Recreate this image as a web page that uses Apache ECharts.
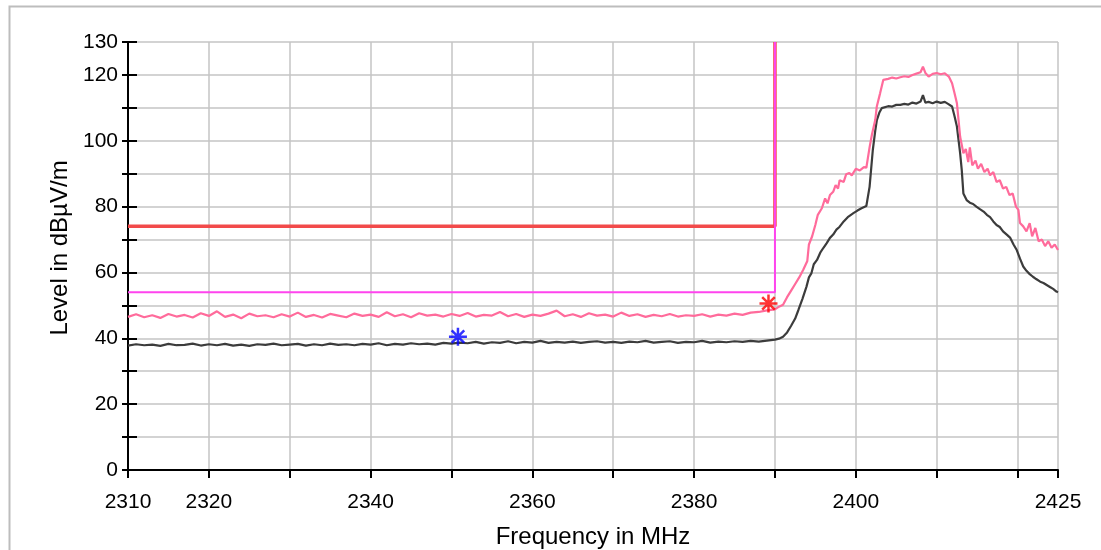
<!DOCTYPE html>
<html>
<head>
<meta charset="utf-8">
<script src="https://cdn.jsdelivr.net/npm/echarts@6/dist/echarts.min.js"></script>
<style>
html,body{margin:0;padding:0;background:#fff;}
#chart{width:1101px;height:550px;}
</style>
</head>
<body>
<div id="chart"></div>
<script>
// ---- data ----
const xLabelsShown = [2310, 2320, 2340, 2360, 2380, 2400, 2425];
const yLabelsShown = [0, 20, 40, 60, 80, 100, 120, 130];

const peakTrace = [
[2310,46.5],[2311,47.3],[2312,46.4],[2313,47.0],[2314,46.2],[2315,47.4],[2316,46.6],[2317,47.1],[2318,46.3],[2319,47.6],
[2320,46.8],[2321,48.2],[2322,46.5],[2323,47.2],[2324,46.1],[2325,47.5],[2326,46.7],[2327,47.0],[2328,46.4],[2329,47.3],
[2330,46.6],[2331,47.8],[2332,46.5],[2333,47.1],[2334,46.3],[2335,47.4],[2336,46.9],[2337,46.4],[2338,47.5],[2339,46.8],
[2340,47.2],[2341,46.5],[2342,47.9],[2343,46.7],[2344,47.3],[2345,46.4],[2346,47.6],[2347,46.9],[2348,47.2],[2349,46.6],
[2350,47.4],[2351,46.8],[2352,47.7],[2353,46.6],[2354,47.1],[2355,46.9],[2356,48.0],[2357,46.7],[2358,47.4],[2359,46.5],
[2360,47.2],[2361,46.8],[2362,47.5],[2363,48.4],[2364,46.7],[2365,47.3],[2366,46.5],[2367,47.6],[2368,46.9],[2369,47.2],
[2370,46.6],[2371,47.8],[2372,46.8],[2373,47.3],[2374,46.5],[2375,47.1],[2376,46.7],[2377,47.4],[2378,46.6],[2379,47.0],
[2380,46.8],[2381,47.3],[2382,46.6],[2383,47.2],[2384,46.9],[2385,47.5],[2386,47.1],[2387,47.8],[2388,48.0],[2389,48.5],
[2390,48.8],[2390.5,49.6],[2391,50.2],[2391.5,52.5],[2392,54.5],[2392.5,56.5],[2393,58.5],[2393.5,60.8],[2394,63.5],[2394.2,68.5],
[2394.6,71],[2395,74.5],[2395.3,77.5],[2395.8,79.5],[2396.2,82.5],[2396.5,81],[2396.8,83.5],[2397.2,84.5],[2397.5,86.5],[2397.8,85.5],
[2398,88],[2398.5,87.5],[2398.8,89.8],[2399.2,90.2],[2399.5,89.5],[2400,91.5],[2400.5,91],[2401,92],[2401.3,91.8],[2401.7,98],
[2402,102],[2402.4,106.3],[2402.6,110.5],[2403,114.4],[2403.4,118.5],[2404,118.8],[2404.5,119.2],[2405,118.9],[2405.5,119.3],[2406,119.6],
[2406.5,119.4],[2407,120.0],[2407.5,120.4],[2408,120.8],[2408.3,122.5],[2408.6,120.6],[2409,119.5],[2409.5,120.3],[2410,120.6],[2410.5,120.2],
[2411,120.5],[2411.5,119.5],[2411.9,117.5],[2412.2,114.5],[2412.5,111.4],[2412.9,101.2],[2413.3,96.2],[2413.6,97.5],[2413.9,93.5],[2414.1,98],
[2414.4,92.5],[2414.8,94],[2415.1,91.5],[2415.5,93],[2415.9,90.5],[2416.3,91.5],[2416.6,89.5],[2417,90.5],[2417.4,87.5],[2417.8,88],
[2418.2,85.5],[2418.6,86],[2419,83.5],[2419.4,84],[2419.8,80],[2420.1,79],[2420.3,75],[2420.7,74],[2421.1,72.5],[2421.5,75],
[2421.8,71],[2422.2,73.5],[2422.6,69.5],[2423,70],[2423.4,68],[2423.8,69.5],[2424.2,67.5],[2424.6,68.5],[2425,66.8]
];

const avgTrace = [
[2310,37.8],[2311,38.2],[2312,37.9],[2313,38.1],[2314,37.7],[2315,38.3],[2316,37.9],[2317,38.0],[2318,38.4],[2319,37.8],
[2320,38.2],[2321,37.9],[2322,38.3],[2323,37.8],[2324,38.1],[2325,37.7],[2326,38.2],[2327,38.0],[2328,38.4],[2329,37.9],
[2330,38.1],[2331,38.3],[2332,37.8],[2333,38.2],[2334,37.9],[2335,38.4],[2336,38.0],[2337,38.2],[2338,37.9],[2339,38.3],
[2340,38.1],[2341,38.5],[2342,37.9],[2343,38.3],[2344,38.1],[2345,38.5],[2346,38.2],[2347,38.4],[2348,38.1],[2349,38.6],
[2350,38.4],[2351,38.7],[2352,38.5],[2353,38.9],[2354,38.4],[2355,38.8],[2356,38.6],[2357,39.1],[2358,38.5],[2359,38.9],
[2360,38.7],[2361,39.2],[2362,38.6],[2363,38.9],[2364,38.7],[2365,39.0],[2366,38.6],[2367,38.9],[2368,39.1],[2369,38.7],
[2370,38.9],[2371,38.6],[2372,39.0],[2373,38.8],[2374,39.2],[2375,38.7],[2376,38.9],[2377,39.1],[2378,38.6],[2379,38.9],
[2380,38.8],[2381,39.2],[2382,38.7],[2383,39.0],[2384,38.8],[2385,39.1],[2386,38.9],[2387,39.2],[2388,39.0],[2389,39.3],
[2390,39.6],[2390.5,39.9],[2391,40.5],[2391.5,41.8],[2392,43.8],[2392.5,46],[2392.9,48.6],[2393.4,52],[2393.9,55.7],[2394.2,58.5],
[2394.5,59.7],[2394.8,62.5],[2395.2,63.8],[2395.6,66],[2396,67.5],[2396.4,68.9],[2396.8,70.5],[2397.2,71.5],[2397.6,73],[2398,73.9],
[2398.5,75.5],[2399,76.8],[2399.4,77.5],[2399.7,78.0],[2400.2,78.8],[2400.7,79.5],[2401.3,80.2],[2401.7,86],[2402.1,97.2],[2402.4,103],
[2402.6,106.3],[2402.9,108.5],[2403.2,109.9],[2404,110.5],[2404.5,110.4],[2405,110.9],[2405.5,110.9],[2406,111.2],[2406.5,111.0],[2407,111.6],
[2407.5,111.3],[2408,111.9],[2408.3,113.9],[2408.6,111.6],[2409,111.8],[2409.5,111.4],[2410,111.9],[2410.5,111.5],[2411,111.8],[2411.4,111.2],
[2411.9,110.4],[2412.2,107.5],[2412.5,104.3],[2412.9,96.2],[2413.1,91.1],[2413.3,84.0],[2413.7,82.0],[2414.1,81.2],[2414.5,80.8],[2414.9,80.0],
[2415.3,79.3],[2415.8,78.5],[2416.2,77.5],[2416.6,76.8],[2417,75.5],[2417.4,74.4],[2417.8,73.8],[2418.2,72.5],[2418.7,71.4],[2419.1,70.5],
[2419.5,68.5],[2419.9,66.8],[2420.3,64.2],[2420.7,61.8],[2421.1,60.5],[2421.5,59.5],[2421.9,58.7],[2422.3,58.0],[2422.8,57.2],[2423.2,56.8],
[2423.6,56.2],[2424,55.6],[2424.4,55.0],[2424.8,54.2],[2425,54.0]
];

const peakLimit = [[2310,74],[2390,74],[2390,130]];
const avgLimit = [[2310,54],[2390,54],[2390,130]];
const peakMarker = [[2389.2,50.6]];
const avgMarker = [[2350.8,40.5]];

// ---- chart ----
const FONT = '"Liberation Sans", Arial, sans-serif';
const asterisk = 'path://M0,-10L0,10M-10,0L10,0M-7,-7L7,7M-7,7L7,-7';
const chart = echarts.init(document.getElementById('chart'), null, {renderer:'canvas'});
chart.setOption({
  animation:false,
  backgroundColor:'#ffffff',
  graphic:[{type:'rect', left:7, top:4, shape:{width:1110, height:570}, style:{fill:'none', stroke:'#bdbdbd', lineWidth:2}, silent:true, z:-10}],
  grid:{left:128, right:43, top:42, bottom:80, containLabel:false, outerBoundsMode:'none'},
  xAxis:{
    type:'value', min:2310, max:2425, interval:10,
    name:'Frequency in MHz', nameLocation:'middle', nameGap:55,
    nameTextStyle:{fontFamily:FONT, fontSize:24, color:'#000'},
    axisLine:{show:true, onZero:false, lineStyle:{color:'#000', width:2}},
    axisTick:{show:true, inside:false, length:8, lineStyle:{color:'#000', width:2}},
    axisLabel:{margin:22, fontFamily:FONT, fontSize:21, color:'#000',
      formatter:v => xLabelsShown.indexOf(Math.round(v))>=0 ? String(Math.round(v)) : ''},
    splitLine:{show:true, lineStyle:{color:'#c4c4c4', width:1.5}}
  },
  yAxis:[{
    type:'value', min:0, max:130, interval:10,
    name:'Level in dBµV/m', nameLocation:'middle', nameGap:56, nameRotate:90,
    nameTextStyle:{fontFamily:FONT, fontSize:24, color:'#000', padding:[0,0,0,16]},
    axisLine:{show:true, onZero:false, lineStyle:{color:'#000', width:2}},
    axisTick:{show:true, inside:false, length:6, lineStyle:{color:'#000', width:2}},
    axisLabel:{margin:10, fontFamily:FONT, fontSize:21, color:'#000',
      formatter:v => yLabelsShown.indexOf(Math.round(v))>=0 ? String(Math.round(v)) : ''},
    splitLine:{show:true, lineStyle:{color:'#c4c4c4', width:1.5}}
  },{
    type:'value', min:0, max:130, interval:10, position:'left', offset:0,
    axisLine:{show:false}, axisLabel:{show:false}, splitLine:{show:false},
    axisTick:{show:true, inside:true, length:9, lineStyle:{color:'#000', width:2}}
  }],
  series:[
    {type:'line', data:peakLimit, showSymbol:false, lineStyle:{color:'#f24a4a', width:3.5}, z:3},
    {type:'line', data:avgLimit, showSymbol:false, lineStyle:{color:'#ff44ee', width:2}, z:4},
    {type:'line', data:avgTrace, showSymbol:false, lineStyle:{color:'#3c3c3c', width:2.2}, z:5},
    {type:'line', data:peakTrace, showSymbol:false, lineStyle:{color:'#ff6b9b', width:2.2}, z:6},
    {type:'scatter', data:peakMarker, symbol:asterisk, symbolSize:18,
      itemStyle:{color:'rgba(0,0,0,0)', borderColor:'#ff0000', borderWidth:2.5}, z:7},
    {type:'scatter', data:avgMarker, symbol:asterisk, symbolSize:18,
      itemStyle:{color:'rgba(0,0,0,0)', borderColor:'#0000ff', borderWidth:2.5}, z:7}
  ]
});
</script>
</body>
</html>
